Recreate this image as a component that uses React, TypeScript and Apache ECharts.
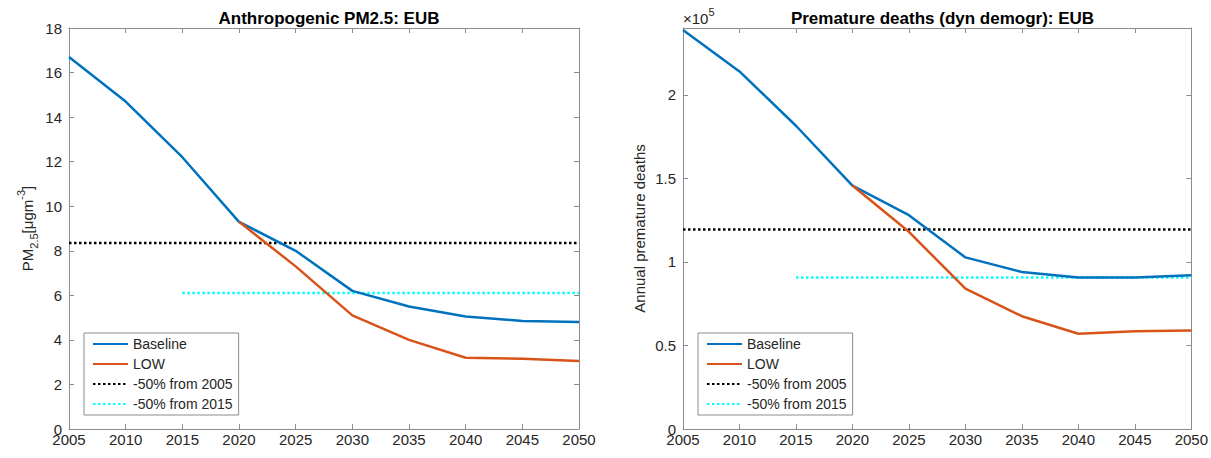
import React, { useEffect, useRef } from "react";
import * as echarts from "echarts";

const years = [2005, 2010, 2015, 2020, 2025, 2030, 2035, 2040, 2045, 2050];
const pmBaseline = [16.7, 14.7, 12.2, 9.3, 8.0, 6.2, 5.5, 5.05, 4.85, 4.8];
const pmLow = [null, null, null, 9.3, 7.3, 5.1, 4.0, 3.2, 3.15, 3.05];
const pmTarget2005 = [8.35, 8.35];
const pmTarget2005Years = [2005, 2050];
const pmTarget2015 = [6.1, 6.1];
const pmTarget2015Years = [2015, 2050];

const deathsBaseline = [238800, 214000, 181500, 145700, 128000, 102700, 94000, 90700, 90600, 92000];
const deathsLow = [null, null, null, 145700, 118000, 84000, 67500, 57000, 58500, 59000];
const deathsTarget2005 = [119400, 119400];
const deathsTarget2005Years = [2005, 2050];
const deathsTarget2015 = [90700, 90700];
const deathsTarget2015Years = [2015, 2050];

const legendNames = ["Baseline", "LOW", "-50% from 2005", "-50% from 2015"];

const pairs = (xs: number[], ys: (number | null)[]) =>
  xs.map((x, i) => [x, ys[i]]).filter((p) => p[1] !== null);

const FONT = 'Arial, "Liberation Sans", Helvetica, sans-serif';
const AXIS_GRAY = "#8c8c8c";
const TEXT = "#262626";

export default function App() {
  const ref = useRef<HTMLDivElement>(null);
  useEffect(() => {
    if (!ref.current) return;
    const chart = echarts.init(ref.current, null, { renderer: "svg" });

    const xBase = (gridIndex: number, top: boolean) => ({
      type: "value",
      gridIndex,
      position: top ? "top" : "bottom",
      min: 2005,
      max: 2050,
      interval: 5,
      axisLine: { show: true, onZero: false, lineStyle: { color: AXIS_GRAY, width: 1 } },
      axisTick: { show: true, inside: true, length: 5, lineStyle: { color: AXIS_GRAY } },
      axisLabel: {
        show: !top,
        color: TEXT,
        fontSize: 15,
        fontFamily: FONT,
        margin: 3,
        formatter: (v: number) => String(v),
      },
      splitLine: { show: false },
    });

    const yBase = (gridIndex: number, right: boolean, extra: any) => ({
      type: "value",
      gridIndex,
      position: right ? "right" : "left",
      axisLine: { show: true, onZero: false, lineStyle: { color: AXIS_GRAY, width: 1 } },
      axisTick: { show: true, inside: true, length: 5, lineStyle: { color: AXIS_GRAY } },
      splitLine: { show: false },
      ...extra,
      axisLabel: {
        show: !right,
        color: TEXT,
        fontSize: 15,
        fontFamily: FONT,
        margin: 7,
        ...(extra.axisLabel || {}),
      },
    });

    const line = (name: string, xi: number, yi: number, data: any[], color: string, dotted: boolean) => ({
      type: "line",
      name,
      xAxisIndex: xi,
      yAxisIndex: yi,
      data,
      symbol: "none",
      lineStyle: { color, width: 2.5, type: dotted ? [2.5, 2.5] : "solid" },
      itemStyle: { color },
      z: dotted ? 2 : 3,
    });

    const legendCommon = {
      orient: "vertical",
      data: legendNames,
      backgroundColor: "#ffffff",
      borderColor: "#8c8c8c",
      borderWidth: 1,
      padding: [4, 6, 4, 8],
      itemWidth: 35,
      itemHeight: 14,
      itemGap: 6,
      itemStyle: { opacity: 0 },
      textStyle: { color: TEXT, fontSize: 14, fontFamily: FONT },
      selectedMode: false,
    };

    const pmYFmt = {
      min: 0,
      max: 18,
      interval: 2,
      name: "{a|PM}{b|2.5}{a|[μgm}{c|-3}{a|]}",
      nameLocation: "middle",
      nameGap: 30,
      nameRotate: 90,
      nameTextStyle: {
        color: TEXT,
        fontFamily: FONT,
        rich: {
          a: { fontSize: 15, fontFamily: FONT, color: TEXT, lineHeight: 24, verticalAlign: "middle" },
          b: { fontSize: 11, fontFamily: FONT, color: TEXT, lineHeight: 9, verticalAlign: "bottom" },
          c: { fontSize: 11, fontFamily: FONT, color: TEXT, lineHeight: 9, verticalAlign: "top" },
        },
      },
    };

    const deathsYFmt = {
      min: 0,
      max: 240000,
      interval: 50000,
      name: "Annual premature deaths",
      nameLocation: "middle",
      nameGap: 36,
      nameRotate: 90,
      nameTextStyle: { color: TEXT, fontSize: 15, fontFamily: FONT },
      axisLabel: {
        showMaxLabel: false,
        formatter: (v: number) => (v === 240000 ? "" : String(v / 100000)),
      },
    };

    const option: any = {
      animation: false,
      backgroundColor: "#ffffff",
      title: [
        {
          text: "Anthropogenic PM2.5: EUB",
          left: 324,
          top: 5,
          textAlign: "center",
          textStyle: { fontSize: 17, fontWeight: "bold", color: "#000", fontFamily: FONT },
        },
        {
          text: "Premature deaths (dyn demogr): EUB",
          left: 937.5,
          top: 5,
          textAlign: "center",
          textStyle: { fontSize: 17, fontWeight: "bold", color: "#000", fontFamily: FONT },
        },
      ],
      grid: [
        { left: 69, right: 632, top: 28, bottom: 29, containLabel: false },
        { left: 683, right: 19, top: 28, bottom: 29, containLabel: false },
      ],
      xAxis: [xBase(0, false), xBase(0, true), xBase(1, false), xBase(1, true)],
      yAxis: [
        yBase(0, false, pmYFmt),
        yBase(0, true, { min: 0, max: 18, interval: 2 }),
        yBase(1, false, deathsYFmt),
        yBase(1, true, { min: 0, max: 240000, interval: 50000 }),
      ],
      legend: [
        { ...legendCommon, left: 84, top: 333 },
        { ...legendCommon, left: 698, top: 333 },
      ],
      graphic: [
        {
          type: "text",
          left: 683,
          top: 6,
          style: {
            text: "{a|×10}{b|5}",
            rich: {
              a: { fontSize: 15, fontFamily: FONT, fill: TEXT, lineHeight: 20, verticalAlign: "bottom" },
              b: { fontSize: 11, fontFamily: FONT, fill: TEXT, lineHeight: 11, verticalAlign: "top" },
            },
          },
        },
      ],
      series: [
        line("Baseline", 0, 0, pairs(years, pmBaseline), "#0072BD", false),
        line("LOW", 0, 0, pairs(years, pmLow), "#D95319", false),
        line("-50% from 2005", 0, 0, pairs(pmTarget2005Years, pmTarget2005), "#000000", true),
        line("-50% from 2015", 0, 0, pairs(pmTarget2015Years, pmTarget2015), "#00FFFF", true),
        line("Baseline", 2, 2, pairs(years, deathsBaseline), "#0072BD", false),
        line("LOW", 2, 2, pairs(years, deathsLow), "#D95319", false),
        line("-50% from 2005", 2, 2, pairs(deathsTarget2005Years, deathsTarget2005), "#000000", true),
        line("-50% from 2015", 2, 2, pairs(deathsTarget2015Years, deathsTarget2015), "#00FFFF", true),
      ],
    };

    chart.setOption(option);
    return () => chart.dispose();
  }, []);

  return (
    <div
      ref={ref}
      style={{ position: "absolute", left: 0, top: 0, width: 1211, height: 458, background: "#fff" }}
    />
  );
}
